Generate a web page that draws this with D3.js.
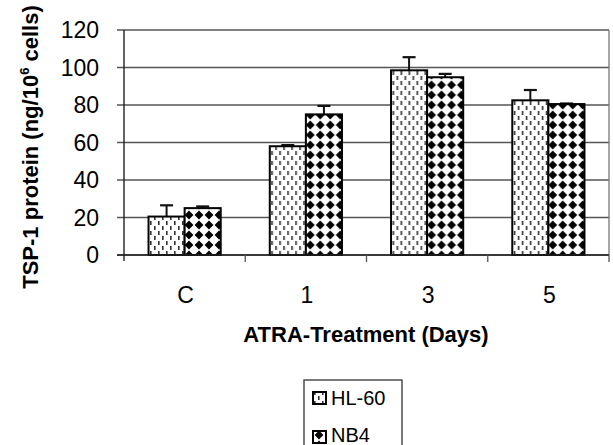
<!DOCTYPE html>
<html>
<head>
<meta charset="utf-8">
<script src="https://cdn.jsdelivr.net/npm/d3@7"></script>
<style>
  body { margin: 0; background: #fff; }
  text { font-family: "Liberation Sans", Arial, sans-serif; }
</style>
</head>
<body>
<div class="canvas"></div>
<script>
// data
const days = ["C", "1", "3", "5"];
const series = ["HL-60", "NB4"];
const hl60 = [20.5, 58, 98.5, 82.5];
const hl60Err = [6, 0.6, 7, 5.5];
const nb4 = [25, 75, 94.8, 80.5];
const nb4Err = [0.9, 4.5, 1.8, 0.3];
const yTicks = [0, 20, 40, 60, 80, 100, 120];

const dims = { width: 613, height: 445 };
const plot = { left: 124, right: 609, top: 30, bottom: 255 };

const svg = d3
  .select(".canvas")
  .append("svg")
  .attr("width", dims.width)
  .attr("height", dims.height);

const defs = svg.append("defs");

// dashed stipple used by HL-60
const dash = defs
  .append("pattern")
  .attr("id", "dash")
  .attr("patternUnits", "userSpaceOnUse")
  .attr("width", 8)
  .attr("height", 10);
dash.append("rect").attr("width", 8).attr("height", 10).attr("fill", "#fff");
dash.append("rect").attr("x", 2).attr("y", 1).attr("width", 1.6).attr("height", 4).attr("fill", "#333");
dash.append("rect").attr("x", 6).attr("y", 6).attr("width", 1.6).attr("height", 4).attr("fill", "#333");

// diamond checker used by NB4
const diam = defs
  .append("pattern")
  .attr("id", "diam")
  .attr("patternUnits", "userSpaceOnUse")
  .attr("width", 10)
  .attr("height", 10);
diam.append("rect").attr("width", 10).attr("height", 10).attr("fill", "#fff");
diam.append("path").attr("d", "M5,0.6L9.4,5L5,9.4L0.6,5Z").attr("fill", "#000");

const fills = { "HL-60": "url(#dash)", NB4: "url(#diam)" };

const x0 = d3.scaleBand().domain(days).range([plot.left, plot.right]).paddingInner(0).paddingOuter(0);
const x1 = d3.scaleBand().domain(series).range([0, x0.bandwidth()]).paddingInner(0).paddingOuter(0.68);
const y = d3.scaleLinear().domain([0, 120]).range([plot.bottom, plot.top]);

// gridlines + y ticks
svg
  .append("g")
  .selectAll("line")
  .data(yTicks)
  .enter()
  .append("line")
  .attr("x1", plot.left - 7)
  .attr("x2", plot.right)
  .attr("y1", (d) => y(d))
  .attr("y2", (d) => y(d))
  .attr("stroke", "#555")
  .attr("stroke-width", 1.3);

// right frame edge
svg
  .append("line")
  .attr("x1", plot.right)
  .attr("x2", plot.right)
  .attr("y1", plot.top)
  .attr("y2", plot.bottom)
  .attr("stroke", "#777")
  .attr("stroke-width", 1.3);

svg
  .append("g")
  .selectAll("text")
  .data(yTicks)
  .enter()
  .append("text")
  .attr("x", 99)
  .attr("y", (d) => y(d) + 8)
  .attr("text-anchor", "end")
  .attr("font-size", 23)
  .attr("fill", "#000")
  .text((d) => d);

// bars
const rows = days.map((d, i) => ({
  day: d,
  vals: [
    { name: "HL-60", v: hl60[i], e: hl60Err[i] },
    { name: "NB4", v: nb4[i], e: nb4Err[i] },
  ],
}));

const groups = svg
  .append("g")
  .selectAll("g")
  .data(rows)
  .enter()
  .append("g")
  .attr("transform", (d) => `translate(${x0(d.day)},0)`);

// error bars (upper only)
groups.each(function (d) {
  const g = d3.select(this);
  d.vals.forEach((b) => {
    const cx = x1(b.name) + x1.bandwidth() / 2;
    g.append("line")
      .attr("x1", cx).attr("x2", cx)
      .attr("y1", y(b.v)).attr("y2", y(b.v + b.e))
      .attr("stroke", "#111").attr("stroke-width", 2);
    g.append("line")
      .attr("x1", cx - 6.5).attr("x2", cx + 6.5)
      .attr("y1", y(b.v + b.e)).attr("y2", y(b.v + b.e))
      .attr("stroke", "#111").attr("stroke-width", 2.2);
  });
});

groups
  .selectAll("rect")
  .data((d) => d.vals)
  .enter()
  .append("rect")
  .attr("x", (d) => x1(d.name))
  .attr("y", (d) => y(d.v))
  .attr("width", x1.bandwidth())
  .attr("height", (d) => y(0) - y(d.v))
  .attr("fill", (d) => fills[d.name])
  .attr("stroke", "#000")
  .attr("stroke-width", 2);

// axes lines
svg
  .append("line")
  .attr("x1", plot.left).attr("x2", plot.left)
  .attr("y1", plot.top).attr("y2", plot.bottom + 6)
  .attr("stroke", "#222").attr("stroke-width", 1.4);

svg
  .append("line")
  .attr("x1", plot.left - 7).attr("x2", plot.right)
  .attr("y1", plot.bottom).attr("y2", plot.bottom)
  .attr("stroke", "#222").attr("stroke-width", 1.4);

svg
  .append("g")
  .selectAll("line")
  .data(days.slice(1).concat(["end"]))
  .enter()
  .append("line")
  .attr("x1", (d) => (d === "end" ? plot.right : x0(d)))
  .attr("x2", (d) => (d === "end" ? plot.right : x0(d)))
  .attr("y1", plot.bottom)
  .attr("y2", plot.bottom + 7)
  .attr("stroke", "#555")
  .attr("stroke-width", 1.3);

svg
  .append("g")
  .selectAll("text")
  .data(days)
  .enter()
  .append("text")
  .attr("x", (d) => x0(d) + x0.bandwidth() / 2 + 1)
  .attr("y", 303)
  .attr("text-anchor", "middle")
  .attr("font-size", 23)
  .attr("fill", "#000")
  .text((d) => d);

// axis titles
svg
  .append("text")
  .attr("x", 366)
  .attr("y", 342)
  .attr("text-anchor", "middle")
  .attr("font-size", 22)
  .attr("font-weight", "bold")
  .attr("fill", "#000")
  .text("ATRA-Treatment (Days)");

const yTitle = svg
  .append("text")
  .attr("transform", "translate(38,147) rotate(-90)")
  .attr("text-anchor", "middle")
  .attr("font-size", 22)
  .attr("font-weight", "bold")
  .attr("fill", "#000");
yTitle.append("tspan").text("TSP-1 protein (ng/10");
yTitle.append("tspan").attr("font-size", 13).attr("dy", -9).text("6");
yTitle.append("tspan").attr("dy", 9).text(" cells)");

// legend
const legend = svg.append("g").attr("transform", "translate(304,380)");
legend
  .append("rect")
  .attr("width", 98)
  .attr("height", 80)
  .attr("fill", "#fff")
  .attr("stroke", "#333")
  .attr("stroke-width", 1.3);

series.forEach((s, i) => {
  legend
    .append("rect")
    .attr("x", 9)
    .attr("y", 12 + i * 39)
    .attr("width", 13)
    .attr("height", 12)
    .attr("fill", fills[s])
    .attr("stroke", "#000")
    .attr("stroke-width", 2);
  legend
    .append("text")
    .attr("x", 27)
    .attr("y", 25 + i * 37)
    .attr("font-size", 20)
    .attr("fill", "#000")
    .text(s);
});
</script>
</body>
</html>
